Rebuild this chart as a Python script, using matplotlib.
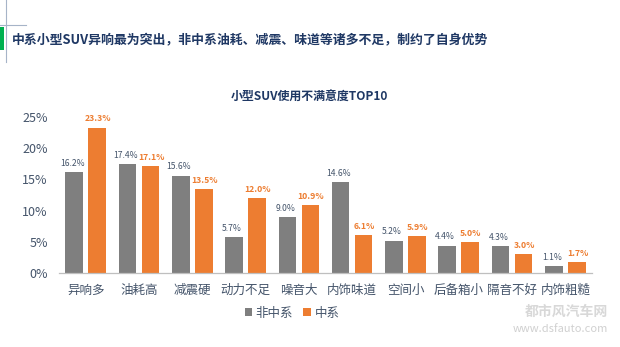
import matplotlib
matplotlib.use("Agg")
import matplotlib.pyplot as plt
from matplotlib.patches import Rectangle
from matplotlib.lines import Line2D
import numpy as np

plt.rcParams['font.family'] = ['Noto Sans CJK SC', 'DejaVu Sans']

categories = ["异响多", "油耗高", "减震硬", "动力不足", "噪音大",
              "内饰味道", "空间小", "后备箱小", "隔音不好", "内饰粗糙"]
non_chinese = [16.2, 17.4, 15.6, 5.7, 9.0, 14.6, 5.2, 4.4, 4.3, 1.1]
chinese = [23.3, 17.1, 13.5, 12.0, 10.9, 6.1, 5.9, 5.0, 3.0, 1.7]
series_names = ["非中系", "中系"]
y_ticks = [0, 5, 10, 15, 20, 25]

GRAY = "#7F7F7F"
ORANGE = "#ED7D31"
TEXT = "#44546A"

W, H = 620, 347
fig = plt.figure(figsize=(W / 100, H / 100), dpi=100)

# header decoration
fig.add_artist(Rectangle((0, 1 - 50 / H), 4 / W, 23 / H, transform=fig.transFigure,
                         color="#00B050", lw=0))
fig.add_artist(Line2D([6 / W, 6 / W], [1 - 62 / H, 1], transform=fig.transFigure,
                      color="#A6B4C8", lw=0.8))
fig.add_artist(Line2D([0, 26 / W], [1 - 25 / H, 1 - 25 / H], transform=fig.transFigure,
                      color="#A6B4C8", lw=0.8))
fig.text(12 / W, 1 - 40 / H,
         "中系小型SUV异响最为突出，非中系油耗、减震、味道等诸多不足，制约了自身优势",
         fontsize=9.3, fontweight="bold", color="#1F3864", va="center", ha="left")

fig.text(309 / W, 1 - 97 / H, "小型SUV使用不满意度TOP10", fontsize=8.6,
         fontweight="bold", color="#1F3864", ha="center", va="center")

ax = fig.add_axes([59 / W, 1 - 273 / H, (592 - 59) / W, (273 - 117) / H])
x = np.arange(len(categories))
off, bw = 0.215, 0.33
b1 = ax.bar(x - off, non_chinese, bw, color=GRAY, label=series_names[0])
b2 = ax.bar(x + off, chinese, bw, color=ORANGE, label=series_names[1])

for xi, v in zip(x, non_chinese):
    ax.annotate(f"{v:.1f}%", (xi - off, v), xytext=(-1.5, 3), textcoords="offset points",
                ha="center", va="bottom", fontsize=6.2, color=TEXT)
for xi, v in zip(x, chinese):
    ax.annotate(f"{v:.1f}%", (xi + off, v), xytext=(0.5, 3), textcoords="offset points",
                ha="center", va="bottom", fontsize=6.2, color=ORANGE, fontweight="bold")

ax.set_xlim(-0.5, len(categories) - 0.5)
ax.set_ylim(0, 25)
ax.set_yticks(y_ticks)
ax.set_yticklabels([f"{t}%" for t in y_ticks])
ax.set_xticks(x)
ax.set_xticklabels(categories)
ax.tick_params(axis="both", length=0, labelsize=9, colors=TEXT)
ax.tick_params(axis="y", pad=8)
ax.tick_params(axis="x", pad=8)
for s in ["top", "right", "left"]:
    ax.spines[s].set_visible(False)
ax.spines["bottom"].set_color("#BFBFBF")
ax.spines["bottom"].set_linewidth(0.9)

fig.legend(handles=[b1, b2], loc="center", bbox_to_anchor=(292 / W, 1 - 313 / H),
           ncol=2, frameon=False, fontsize=9, handlelength=0.6, handleheight=0.6,
           handletextpad=0.3, columnspacing=0.8, labelcolor=TEXT)

# site mark
fig.text(566 / W, 1 - 312 / H, "都市风汽车网", fontsize=10, fontweight="bold",
         style="italic", color="#D8D8D8", ha="center", va="center")
fig.text(560 / W, 1 - 329 / H, "www.dsfauto.com", fontsize=8, style="italic",
         color="#D0D0D0", ha="center", va="center")

fig.savefig("out.png", dpi=100)
